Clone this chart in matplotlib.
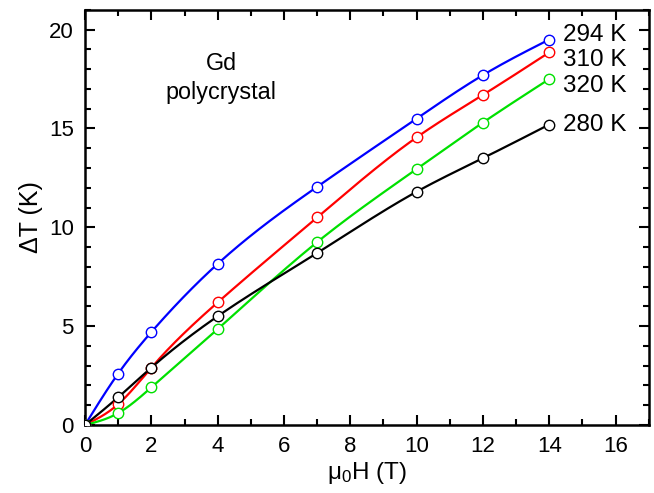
import numpy as np
import matplotlib
matplotlib.use("Agg")
import matplotlib.pyplot as plt
from matplotlib.ticker import MultipleLocator

plt.rcParams['font.family'] = ['Liberation Sans', 'DejaVu Sans']
plt.rcParams['mathtext.default'] = 'regular'

# field (T) and temperature change (K) for each initial temperature
field = [0, 1, 2, 4, 7, 10, 12, 14]
dT_294 = [0, 2.6, 4.7, 8.15, 12.05, 15.5, 17.7, 19.5]
dT_310 = [0, 1.05, 2.9, 6.2, 10.5, 14.55, 16.7, 18.85]
dT_320 = [0, 0.6, 1.9, 4.85, 9.25, 12.95, 15.3, 17.5]
dT_280 = [0, 1.4, 2.9, 5.5, 8.7, 11.8, 13.5, 15.2]

labels = ['294 K', '310 K', '320 K', '280 K']
colors = ['#0000ff', '#ff0000', '#00e000', '#000000']
label_y = [19.75, 18.45, 17.15, 15.2]


def natural_spline(x, y, n=300):
    # natural cubic spline through the points, for the smooth connecting line
    x = np.asarray(x, float)
    y = np.asarray(y, float)
    h = np.diff(x)
    m = len(x)
    A = np.zeros((m, m))
    r = np.zeros(m)
    A[0, 0] = A[-1, -1] = 1
    for i in range(1, m - 1):
        A[i, i - 1] = h[i - 1]
        A[i, i] = 2 * (h[i - 1] + h[i])
        A[i, i + 1] = h[i]
        r[i] = 6 * ((y[i + 1] - y[i]) / h[i] - (y[i] - y[i - 1]) / h[i - 1])
    M = np.linalg.solve(A, r)
    xs = np.linspace(x[0], x[-1], n)
    k = np.clip(np.searchsorted(x, xs) - 1, 0, m - 2)
    t0 = x[k + 1] - xs
    t1 = xs - x[k]
    hk = h[k]
    ys = (M[k] * t0**3 + M[k + 1] * t1**3) / (6 * hk) \
        + (y[k] / hk - M[k] * hk / 6) * t0 + (y[k + 1] / hk - M[k + 1] * hk / 6) * t1
    return xs, ys


fig = plt.figure(figsize=(6.54, 4.93), dpi=100)
ax = fig.add_axes([0.130, 0.138, 0.862, 0.842])

for ys, c, lab, ly in zip([dT_294, dT_310, dT_320, dT_280], colors, labels, label_y):
    sx, sy = natural_spline(field, ys)
    ax.plot(sx, sy, color=c, lw=1.6, zorder=2)
    ax.plot(field, ys, 'o', mfc='white', mec=c, ms=7.5, mew=1.0, zorder=3)
    ax.text(14.4, ly, lab, fontsize=17.5, va='center', ha='left')

ax.text(4.1, 18.3, 'Gd', fontsize=16.8, ha='center', va='center')
ax.text(4.1, 16.8, 'polycrystal', fontsize=16.8, ha='center', va='center')

ax.set_xlim(0, 17)
ax.set_ylim(0, 21)
ax.xaxis.set_major_locator(MultipleLocator(2))
ax.xaxis.set_minor_locator(MultipleLocator(1))
ax.yaxis.set_major_locator(MultipleLocator(5))
ax.yaxis.set_minor_locator(MultipleLocator(1))
ax.tick_params(which='both', direction='in', top=True, right=True, width=1.5, labelsize=16)
ax.tick_params(which='major', length=7, pad=8)
ax.tick_params(which='minor', length=4)
for s in ax.spines.values():
    s.set_linewidth(1.8)

ax.set_xlabel(r'μ$_0$H (T)', fontsize=17.5, labelpad=2)
ax.set_ylabel('ΔT (K)', fontsize=18, labelpad=4)

fig.savefig('out.png', dpi=100)
